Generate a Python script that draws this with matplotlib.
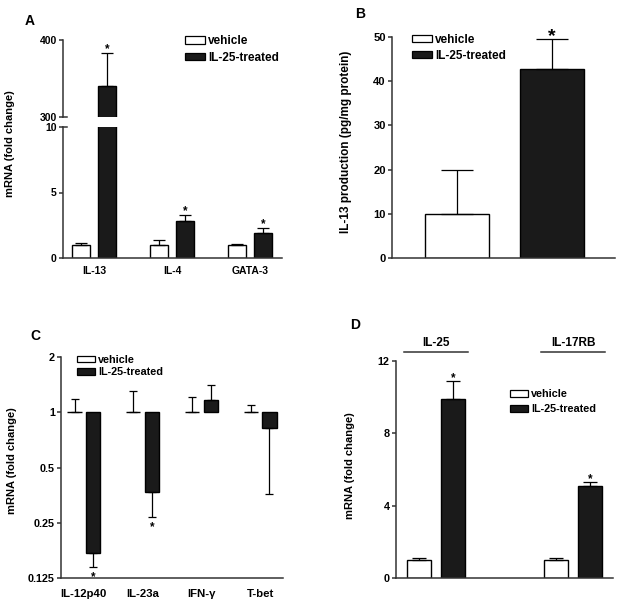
import matplotlib
matplotlib.use("Agg")
import matplotlib.pyplot as plt
from matplotlib.patches import Patch
import matplotlib.transforms as mtrans
import numpy as np

plt.rcParams['font.family'] = ['Liberation Sans', 'DejaVu Sans']
plt.rcParams['font.weight'] = 'bold'

# ---------------- data ----------------
series_labels = ['vehicle', 'IL-25-treated']

# Panel A
catsA = ['IL-13', 'IL-4', 'GATA-3']
vehA = [1.0, 1.0, 1.0]
vehA_err = [0.18, 0.40, 0.04]
trtA = [340.0, 2.82, 1.90]
trtA_err = [43.0, 0.46, 0.38]
sigA = [True, True, True]

# Panel B
vehB = 10.0
vehB_err = 9.8
trtB = 42.8
trtB_err = 6.7

# Panel C (log2 axis, bars from 1)
catsC = ['IL-12p40', 'IL-23a', 'IFN-\u03b3', 'T-bet']
vehC = [1.0, 1.0, 1.0, 1.0]
vehC_err = [0.18, 0.31, 0.21, 0.10]
trtC = [0.170, 0.368, 1.165, 0.82]
trtC_err = [0.027, 0.098, 0.245, 0.46]
sigC = [True, True, False, False]

# Panel D
catsD = ['IL-25', 'IL-17RB']
vehD = [1.0, 1.0]
vehD_err = [0.10, 0.10]
trtD = [9.9, 5.1]
trtD_err = [1.0, 0.2]
sigD = [True, True]

# ---------------- style ----------------
DARK = '#1a1a1a'
SPINE = '#333333'
W, H = 624, 605

fig = plt.figure(figsize=(W / 100, H / 100), dpi=100)


def axes_px(x0, x1, ytop, ybot):
    return fig.add_axes([x0 / W, 1 - ybot / H, (x1 - x0) / W, (ybot - ytop) / H])


def style(ax, bottom=True, fs=7.5):
    for s in ['top', 'right']:
        ax.spines[s].set_visible(False)
    ax.spines['left'].set_color(SPINE)
    ax.spines['left'].set_linewidth(1.1)
    ax.spines['bottom'].set_color(SPINE)
    ax.spines['bottom'].set_linewidth(1.1)
    if not bottom:
        ax.spines['bottom'].set_visible(False)
    ax.tick_params(axis='y', direction='out', length=3, width=1.1, color=SPINE,
                   labelsize=fs, pad=1.5)
    ax.tick_params(axis='x', length=0, labelsize=fs)


def legend(ax, x, y, fs, spacing):
    handles = [Patch(facecolor='white', edgecolor='black', linewidth=0.9),
               Patch(facecolor=DARK, edgecolor='black', linewidth=0.9)]
    ax.legend(handles, series_labels, loc='upper left', bbox_to_anchor=(x, y),
              frameon=False, fontsize=fs, handlelength=1.7, handleheight=0.6,
              handletextpad=0.25, labelspacing=spacing, borderpad=0,
              borderaxespad=0, prop={'weight': 'bold', 'size': fs})


def stars(ax, xs, tops, flags, fs=8, dy=0.0, va='baseline'):
    for x, t, f in zip(xs, tops, flags):
        if f:
            ax.annotate('*', xy=(x, t), xytext=(0, dy), textcoords='offset points',
                        ha='center', va=va, fontsize=fs, fontweight='bold',
                        annotation_clip=False)


# ---------------- Panel A (broken axis) ----------------
axA_up = axes_px(63, 282, 40, 117)
axA_lo = axes_px(63, 282, 127, 258)
xA = np.arange(len(catsA))
offA, wA = 0.17, 0.23
for ax in (axA_up, axA_lo):
    ax.bar(xA - offA, vehA, wA, color='white', edgecolor='black', linewidth=1.0)
    ax.bar(xA + offA, trtA, wA, color=DARK, edgecolor='black', linewidth=1.0)
    ax.errorbar(xA - offA, vehA, yerr=[np.zeros(3), vehA_err], fmt='none',
                ecolor='black', elinewidth=0.9, capsize=4.3, capthick=0.9)
    ax.errorbar(xA + offA, trtA, yerr=[np.zeros(3), trtA_err], fmt='none',
                ecolor='black', elinewidth=0.9, capsize=4.3, capthick=0.9)
    ax.set_xlim(-0.4, 2.41)
axA_up.set_ylim(300, 400)
axA_up.set_yticks([300, 400])
axA_lo.set_ylim(0, 10)
axA_lo.set_yticks([0, 5, 10])
style(axA_up, bottom=False, fs=7.5)
style(axA_lo, fs=7.5)
axA_up.set_xticks([])
axA_lo.set_xticks(xA)
axA_lo.set_xticklabels(catsA, fontweight='bold')
axA_lo.tick_params(axis='x', pad=6)
# break marks crossing the spine
for ax, yy in ((axA_up, 0), (axA_lo, 1)):
    ax.plot([0, 0.018], [yy, yy], transform=ax.transAxes, color=SPINE,
            lw=1.1, clip_on=False)
tops = [v + e for v, e in zip(trtA, trtA_err)]
stars(axA_up, [xA[0] + offA], [tops[0]], [sigA[0]], fs=8.5, dy=0.5)
stars(axA_lo, list(xA[1:] + offA), tops[1:], sigA[1:], fs=8.5, dy=0.5)
axA_lo.set_ylabel('mRNA (fold change)', fontsize=8, fontweight='bold')
axA_lo.yaxis.set_label_coords(-0.22, 0.87)
legend(axA_up, 0.557, 1.06, 8.5, 0.35)
fig.text(25 / W, 1 - 25 / H, 'A', fontsize=10, fontweight='bold')

# ---------------- Panel B ----------------
axB = axes_px(392, 615, 37, 258)
xB = np.arange(2)
axB.bar(xB[0], vehB, 0.67, color='white', edgecolor='black', linewidth=1.0)
axB.bar(xB[1], trtB, 0.67, color=DARK, edgecolor='black', linewidth=1.0)
axB.errorbar(xB, [vehB, trtB], yerr=[[0, 0], [vehB_err, trtB_err]], fmt='none',
             ecolor='black', elinewidth=0.9, capsize=11.5, capthick=0.9)
axB.set_xlim(-0.68, 1.66)
axB.set_ylim(0, 50)
axB.set_yticks([0, 10, 20, 30, 40, 50])
style(axB, fs=8)
axB.set_xticks([])
stars(axB, [xB[1]], [trtB + trtB_err], [True], fs=14, dy=-1.5)
axB.set_ylabel('IL-13 production (pg/mg protein)', fontsize=8.5, fontweight='bold')
axB.yaxis.set_label_coords(-0.18, 0.525)
legend(axB, 0.09, 1.015, 8.5, 0.35)
fig.text(355 / W, 1 - 18 / H, 'B', fontsize=10, fontweight='bold')

# ---------------- Panel C ----------------
axC = axes_px(61, 283, 357, 578)
xC = np.arange(len(catsC))
offC, wC = 0.16, 0.24
axC.set_yscale('log', base=2)
axC.bar(xC - offC, [v - 1 for v in vehC], wC, bottom=1, color='white',
        edgecolor='black', linewidth=1.0)
axC.bar(xC + offC, [v - 1 for v in trtC], wC, bottom=1, color=DARK,
        edgecolor='black', linewidth=1.0)
axC.errorbar(xC - offC, vehC, yerr=[np.zeros(4), vehC_err], fmt='none',
             ecolor='black', elinewidth=0.9, capsize=3.2, capthick=0.9)
lo = [e if v < 1 else 0 for v, e in zip(trtC, trtC_err)]
hi = [e if v >= 1 else 0 for v, e in zip(trtC, trtC_err)]
axC.errorbar(xC + offC, trtC, yerr=[lo, hi], fmt='none',
             ecolor='black', elinewidth=0.9, capsize=3.2, capthick=0.9)
axC.set_xlim(-0.39, 3.39)
axC.set_ylim(0.125, 2)
axC.set_yticks([0.125, 0.25, 0.5, 1, 2])
axC.set_yticklabels(['0.125', '0.25', '0.5', '1', '2'])
axC.yaxis.set_minor_locator(matplotlib.ticker.NullLocator())
style(axC, fs=7.8)
axC.set_xticks(xC)
axC.set_xticklabels(catsC, fontweight='bold', fontsize=8.2)
axC.tick_params(axis='x', pad=8)
bots = [v - e for v, e in zip(trtC, trtC_err)]
stars(axC, list(xC + offC), bots, sigC, fs=8.5, dy=-9.5)
axC.set_ylabel('mRNA (fold change)', fontsize=8, fontweight='bold')
axC.yaxis.set_label_coords(-0.198, 0.53)
legend(axC, 0.072, 1.01, 7.8, 0.2)
fig.text(30 / W, 1 - 340 / H, 'C', fontsize=10, fontweight='bold')

# ---------------- Panel D ----------------
axD = axes_px(396, 613, 361, 578)
xD = np.arange(len(catsD))
offD, wD = 0.124, 0.175
axD.bar(xD - offD, vehD, wD, color='white', edgecolor='black', linewidth=1.0)
axD.bar(xD + offD, trtD, wD, color=DARK, edgecolor='black', linewidth=1.0)
axD.errorbar(xD - offD, vehD, yerr=[np.zeros(2), vehD_err], fmt='none',
             ecolor='black', elinewidth=0.9, capsize=4.7, capthick=0.9)
axD.errorbar(xD + offD, trtD, yerr=[np.zeros(2), trtD_err], fmt='none',
             ecolor='black', elinewidth=0.9, capsize=4.7, capthick=0.9)
axD.set_xlim(-0.29, 1.29)
axD.set_ylim(0, 12)
axD.set_yticks([0, 4, 8, 12])
style(axD, fs=7.8)
axD.set_xticks([])
stars(axD, list(xD + offD), [v + e for v, e in zip(trtD, trtD_err)], sigD,
      fs=8.5, dy=0.0)
trD = mtrans.blended_transform_factory(axD.transData, axD.transAxes)
for x, name in zip(xD, catsD):
    axD.plot([x - 0.235, x + 0.235], [1.041, 1.041], transform=trD,
             color=SPINE, lw=1.1, clip_on=False)
    axD.text(x, 1.085, name, transform=trD, ha='center', va='center',
             fontsize=8.5, fontweight='bold')
axD.set_ylabel('mRNA (fold change)', fontsize=8, fontweight='bold')
axD.yaxis.set_label_coords(-0.19, 0.516)
legend(axD, 0.525, 0.87, 7.8, 0.45)
fig.text(350 / W, 1 - 329 / H, 'D', fontsize=10, fontweight='bold')

fig.savefig('out.png', dpi=100)
